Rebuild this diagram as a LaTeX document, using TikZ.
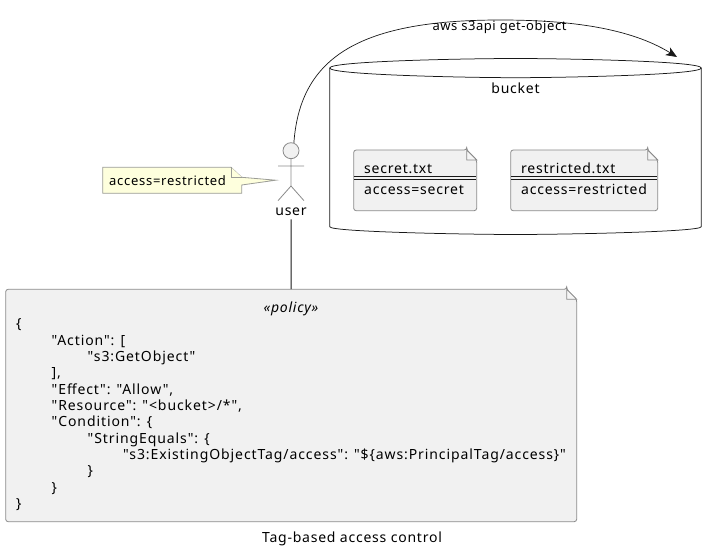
\documentclass[tikz,border=0pt]{standalone}
\usepackage{fontspec}
\setmainfont{Noto Sans}
\newfontfamily\uifont[LetterSpace=5.5]{Noto Sans}
\newfontfamily\edgefont[LetterSpace=4.3]{Noto Sans}
\newfontfamily\jsonfont[LetterSpace=6.5]{Noto Sans}
\usetikzlibrary{arrows.meta}
\definecolor{docfill}{HTML}{F1F1F1}
\definecolor{notefill}{HTML}{FEFFDD}
\definecolor{edge}{HTML}{181818}
\definecolor{stroke}{HTML}{8A8A8A}
\newcommand{\docbox}[4]{%
  \draw[shapeline,fill=docfill,rounded corners=2.5pt] (#3-10,#2) -- (#1,#2) -- (#1,#4) -- (#3,#4) -- (#3,#2+10) -- (#3-10,#2) -- cycle;
  \draw[shapeline,fill=docfill!70!white] (#3-10,#2) -- (#3-10,#2+10) -- (#3,#2+10) -- cycle;
}
\tikzset{
  shapeline/.style={draw=stroke,line width=0.8pt},
  edgeline/.style={draw=edge,line width=0.7pt},
  txt/.style={inner sep=0pt,anchor=base west,text=black,font=\uifont\fontsize{14}{16}\selectfont},
  ctr/.style={inner sep=0pt,anchor=base,text=black,font=\uifont\fontsize{14}{16}\selectfont},
}
\begin{document}
\begin{tikzpicture}[x=1pt,y=-1pt]
\useasboundingbox (0,0) rectangle (718,553);
% bucket
\draw[edgeline,line width=0.75pt] (329.7,68) .. controls (329.7,61) and (470,58.5) .. (515.5,58.5) .. controls (561,58.5) and (701.3,61) .. (701.3,68)
  -- (701.3,226.7) .. controls (701.3,232) and (561,234.5) .. (515.5,234.5) .. controls (470,234.5) and (329.7,232) .. (329.7,226.7) -- cycle;
\draw[edgeline,line width=0.75pt] (329.7,68) .. controls (329.7,75) and (470,77.7) .. (515.5,77.7) .. controls (561,77.7) and (701.3,75) .. (701.3,68);
\node[ctr] (bucket) at (515.5,93.5) {bucket};
\coordinate (bucketin) at (677,57);
% files
\docbox{353.7}{150}{476.7}{210.7}
\draw[edge,line width=0.6pt] (354,176.7) -- (476.4,176.7) (354,178.9) -- (476.4,178.9);
\node[txt] (secretname) at (364,173.5) {secret.txt};
\node[txt] (secretattr) at (364,194.5) {access=secret};
\docbox{510.7}{150}{657.7}{210.7}
\draw[edge,line width=0.6pt] (511,176.7) -- (657.4,176.7) (511,178.9) -- (657.4,178.9);
\node[txt] (restrictedname) at (521,173.5) {restricted.txt};
\node[txt] (restrictedattr) at (521,194.5) {access=restricted};
% actor
\node[circle,shapeline,fill=docfill,minimum size=16pt,inner sep=0pt] (head) at (291,150.7) {};
\draw[shapeline] (head.south) -- (291,186) (278,166) -- (304,166) (278,200.7) -- (291,186) -- (304,200.7);
\node[ctr,inner ysep=3.5pt,anchor=base] (user) at (291,215.5) {user};
% note
\draw[shapeline,draw=stroke!85!notefill,fill=notefill] (102.7,167.3) -- (231,167.3) -- (241.7,177.3) -- (275.7,180.2) -- (241.7,185) -- (241.7,193.3) -- (102.7,193.3) -- cycle;
\draw[shapeline,draw=stroke!85!notefill,fill=notefill] (231,167.3) -- (231,177.3) -- (241.7,177.3);
\node[txt,font=\uifont\fontsize{13}{15}\selectfont] (note) at (109,185.5) {access=restricted};
% policy
\docbox{5.7}{289.3}{576.7}{521.7}
\node[inner sep=0pt,minimum width=571pt,minimum height=232.4pt] (policy) at (291.2,405.5) {};
\draw[edgeline,line width=1pt] (user.south) -- (policy.north);
\node[ctr,font=\uifont\fontsize{14}{16}\selectfont\itshape] (stereo) at (291,312.5) {«policy»};
\node[inner sep=0pt,anchor=north west,align=left,text=black,font=\jsonfont\fontsize{14}{16.36}\selectfont] (json) at (16,318.5) {%
\{\\
\hspace*{35.5pt}"Action": [\\
\hspace*{71.5pt}"s3:GetObject"\\
\hspace*{35.5pt}],\\
\hspace*{35.5pt}"Effect": "Allow",\\
\hspace*{35.5pt}"Resource": "<bucket>/*",\\
\hspace*{35.5pt}"Condition": \{\\
\hspace*{71.5pt}"StringEquals": \{\\
\hspace*{107pt}"s3:ExistingObjectTag/access": "\$\{aws:PrincipalTag/access\}"\\
\hspace*{71.5pt}\}\\
\hspace*{35.5pt}\}\\
\}};
\node[ctr] (title) at (352,542) {Tag-based access control};
% connector
\draw[edgeline,-{Stealth[length=11pt,width=9pt,inset=3pt]}] (head.70) .. controls (300,60) and (355,20) .. (500,20) .. controls (570,20) and (630,28) .. (bucketin);
\node[ctr,font=\edgefont\fontsize{13}{15}\selectfont] (getobject) at (499.5,30.5) {aws s3api get-object};
\end{tikzpicture}
\end{document}
